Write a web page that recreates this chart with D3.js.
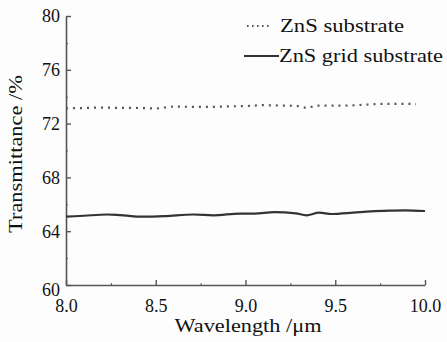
<!DOCTYPE html>
<html>
<head>
<meta charset="utf-8">
<script src="https://cdn.jsdelivr.net/npm/d3@7"></script>
<style>
  body { margin: 0; background: #fdfdfd; }
  svg text { font-family: "Liberation Serif", "Times New Roman", serif; fill: #111; }
</style>
</head>
<body>
<div id="chart"></div>
<script>
// data
var znsWave = [8.0, 8.1, 8.2, 8.3, 8.4, 8.5, 8.6, 8.7, 8.8, 8.9, 9.0, 9.1, 9.2, 9.28, 9.34, 9.4, 9.5, 9.6, 9.7, 9.8, 9.9, 9.95];
var znsTrans = [73.13, 73.16, 73.19, 73.17, 73.16, 73.13, 73.26, 73.25, 73.24, 73.28, 73.30, 73.37, 73.34, 73.32, 73.18, 73.33, 73.33, 73.36, 73.43, 73.47, 73.47, 73.45];

var gridWave = [8.0, 8.1, 8.23, 8.3, 8.43, 8.55, 8.71, 8.82, 8.97, 9.05, 9.16, 9.28, 9.34, 9.41, 9.48, 9.6, 9.7, 9.8, 9.89, 10.0];
var gridTrans = [65.08, 65.15, 65.24, 65.2, 65.08, 65.12, 65.24, 65.18, 65.31, 65.3, 65.42, 65.33, 65.18, 65.38, 65.28, 65.38, 65.48, 65.53, 65.55, 65.5];

var xTicks = [8.0, 8.5, 9.0, 9.5, 10.0];
var xMinor = [8.25, 8.75, 9.25, 9.75];
var yTicks = [60, 64, 68, 72, 76, 80];
var yMinor = [62, 66, 70, 74, 78];

var seriesNames = ["ZnS substrate", "ZnS grid substrate"];

var W = 447, H = 342;
var m = {top: 16, right: 22, bottom: 57, left: 66};
var w = W - m.left - m.right, h = H - m.top - m.bottom;
var fs = 18;
var serif = "Liberation Serif, Times New Roman, serif";

var svg = d3.select("#chart").append("svg")
    .attr("width", W)
    .attr("height", H);

var g = svg.append("g")
    .attr("transform", "translate(" + m.left + "," + m.top + ")");

var x = d3.scaleLinear().domain([8, 10]).range([0, w]);
var y = d3.scaleLinear().domain([60, 80]).range([h, 0]);

var axisColor = "#555";

// minor ticks first
g.append("g")
    .attr("transform", "translate(0," + h + ")")
    .call(d3.axisBottom(x).tickValues(xMinor).tickSize(-2).tickFormat(""))
    .call(function(a) { a.select(".domain").remove(); a.selectAll("line").attr("stroke", axisColor); });
g.append("g")
    .call(d3.axisLeft(y).tickValues(yMinor).tickSize(-2).tickFormat(""))
    .call(function(a) { a.select(".domain").remove(); a.selectAll("line").attr("stroke", axisColor); });

var xAxis = g.append("g")
    .attr("transform", "translate(0," + h + ")")
    .call(d3.axisBottom(x).tickValues(xTicks).tickSize(-5).tickSizeOuter(0)
      .tickFormat(d3.format(".1f")).tickPadding(14));
xAxis.attr("font-family", serif).attr("font-size", fs);
xAxis.select(".domain").attr("stroke", axisColor).attr("stroke-width", 1.6);
xAxis.selectAll(".tick line").attr("stroke", axisColor).attr("stroke-width", 1.4);
xAxis.selectAll("text").attr("fill", "#111");

var yAxis = g.append("g")
    .call(d3.axisLeft(y).tickValues(yTicks).tickSize(-5).tickSizeOuter(0).tickPadding(6));
yAxis.attr("font-family", serif).attr("font-size", fs);
yAxis.select(".domain").attr("stroke", axisColor).attr("stroke-width", 1.6);
yAxis.selectAll(".tick line").attr("stroke", axisColor).attr("stroke-width", 1.4);
yAxis.selectAll("text").attr("fill", "#111")
    .attr("dy", function(d) { return d == 60 ? "0.6em" : "0.33em"; });

var line = d3.line()
    .x(function(d) { return x(d[0]); })
    .y(function(d) { return y(d[1]); })
    .curve(d3.curveMonotoneX);

g.append("path")
    .datum(d3.zip(znsWave, znsTrans))
    .attr("d", line)
    .attr("fill", "none")
    .attr("stroke", "#555")
    .attr("stroke-width", 2.2)
    .attr("stroke-dasharray", "2,5");

g.append("path")
    .datum(d3.zip(gridWave, gridTrans))
    .attr("d", line)
    .attr("fill", "none")
    .attr("stroke", "#333")
    .attr("stroke-width", 2.2);

// axis titles
svg.append("text")
    .attr("x", 248)
    .attr("y", 332)
    .attr("text-anchor", "middle")
    .attr("font-family", serif)
    .attr("font-size", fs)
    .attr("textLength", 147)
    .attr("lengthAdjust", "spacingAndGlyphs")
    .text("Wavelength /\u03bcm");

svg.append("text")
    .attr("transform", "translate(22," + 154 + ") rotate(-90)")
    .attr("text-anchor", "middle")
    .attr("font-family", serif)
    .attr("font-size", fs)
    .attr("textLength", 158)
    .attr("lengthAdjust", "spacingAndGlyphs")
    .text("Transmittance /%");

// legend
var legend = svg.append("g")
    .attr("font-family", serif)
    .attr("font-size", fs);
legend.append("line")
    .attr("x1", 247).attr("x2", 272).attr("y1", 26).attr("y2", 26)
    .attr("stroke", "#555").attr("stroke-width", 1.8)
    .attr("stroke-dasharray", "1.6,3.4");
legend.append("text")
    .attr("x", 280).attr("y", 32)
    .attr("textLength", 124)
    .attr("lengthAdjust", "spacingAndGlyphs")
    .text(seriesNames[0]);
legend.append("line")
    .attr("x1", 244).attr("x2", 279).attr("y1", 56).attr("y2", 56)
    .attr("stroke", "#333").attr("stroke-width", 2);
legend.append("text")
    .attr("x", 279).attr("y", 62)
    .attr("textLength", 164)
    .attr("lengthAdjust", "spacingAndGlyphs")
    .text(seriesNames[1]);
</script>
</body>
</html>
